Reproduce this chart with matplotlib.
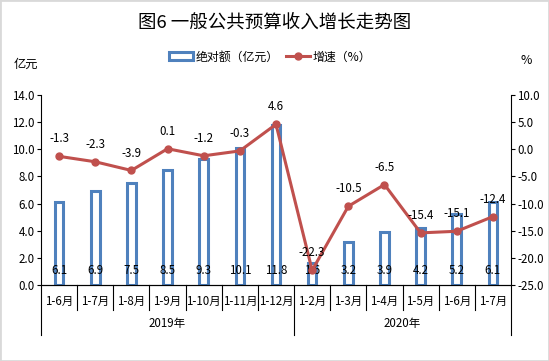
import matplotlib
matplotlib.use("Agg")
import matplotlib.pyplot as plt
from matplotlib.lines import Line2D
from matplotlib.patches import Patch, Rectangle
import matplotlib.transforms as mtransforms

plt.rcParams['font.family'] = ['Noto Sans CJK SC', 'DejaVu Sans']

months = ['1-6月', '1-7月', '1-8月', '1-9月', '1-10月', '1-11月', '1-12月',
          '1-2月', '1-3月', '1-4月', '1-5月', '1-6月', '1-7月']
years = ['2019年', '2020年']
year_counts = [7, 6]
amount = [6.1, 6.9, 7.5, 8.5, 9.3, 10.1, 11.8, 1.6, 3.2, 3.9, 4.2, 5.2, 6.1]
growth = [-1.3, -2.3, -3.9, 0.1, -1.2, -0.3, 4.6, -22.3, -10.5, -6.5, -15.4, -15.1, -12.4]

blue = '#4F81BD'
red = '#C0504D'
fs = 8.3

fig = plt.figure(figsize=(5.49, 3.61), dpi=100)
fig.patches.append(Rectangle((0, 0), 1, 1, transform=fig.transFigure, fill=False,
                             edgecolor='#D9D9D9', linewidth=2))
ax = fig.add_axes([41 / 549, 1 - 285 / 361, 470 / 549, 190 / 361])
ax2 = ax.twinx()

x = list(range(len(months)))
ax.bar(x, amount, width=0.24, facecolor='white', edgecolor=blue, linewidth=2.2, zorder=2)
ax2.plot(x, growth, color=red, linewidth=2.2, marker='o', markersize=5, zorder=3)

ax.set_xlim(-0.5, len(months) - 0.5)
ax.set_ylim(0, 14)
ax.set_yticks([0, 2, 4, 6, 8, 10, 12, 14])
ax.set_yticklabels([f'{v:.1f}' for v in ax.get_yticks()])
ax2.set_ylim(-25, 10)
ax2.set_yticks([-25, -20, -15, -10, -5, 0, 5, 10])
ax2.set_yticklabels([f'{v:.1f}' for v in ax2.get_yticks()])

for a in (ax, ax2):
    a.spines['top'].set_visible(False)
    a.tick_params(axis='y', labelsize=fs, length=3, width=0.8, pad=1.5)
ax.spines['right'].set_visible(False)
ax2.spines['left'].set_visible(False)
ax.set_xticks([])

for xi, v in zip(x, amount):
    ax.annotate(f'{v}', (xi, 0), xytext=(0, 10.8), textcoords='offset points',
                ha='center', va='center', fontsize=fs, zorder=5)
for xi, v in zip(x, growth):
    ax2.annotate(f'{v}', (xi, v), xytext=(0, 12.5), textcoords='offset points',
                 ha='center', va='center', fontsize=fs, zorder=5)

# two-level category axis: months, then years
tr = mtransforms.blended_transform_factory(ax.transData, ax.transAxes)
bounds = [-0.5]
for c in year_counts:
    bounds.append(bounds[-1] + c)
for b in range(len(months) + 1):
    pos = b - 0.5
    depth = -0.263 if pos in bounds else -0.132
    ax.plot([pos, pos], [0, depth], transform=tr, color='black', linewidth=0.8, clip_on=False)
for xi, m in zip(x, months):
    ax.text(xi, -0.085, m, transform=tr, ha='center', va='center', fontsize=fs)
for i, y in enumerate(years):
    ax.text((bounds[i] + bounds[i + 1]) / 2, -0.205, y, transform=tr,
            ha='center', va='center', fontsize=fs)

fig.text(275 / 549, 1 - 23 / 361, '图6 一般公共预算收入增长走势图', ha='center', va='center', fontsize=13.3)
fig.text(26 / 549, 1 - 64 / 361, '亿元', ha='center', va='center', fontsize=8.8)
fig.text(526 / 549, 1 - 60 / 361, '%', ha='center', va='center', fontsize=8.8)

handles = [Patch(facecolor='white', edgecolor=blue, linewidth=2.2),
           Line2D([], [], color=red, linewidth=2.2, marker='o', markersize=5)]
fig.legend(handles, ['绝对额（亿元）', '增速（%）'], loc='center', bbox_to_anchor=(270 / 549, 1 - 57 / 361),
           ncol=2, frameon=False, fontsize=8.6, handlelength=2.0, handleheight=0.6,
           handletextpad=0.2, columnspacing=0.6)

fig.savefig('out.png', dpi=100)
